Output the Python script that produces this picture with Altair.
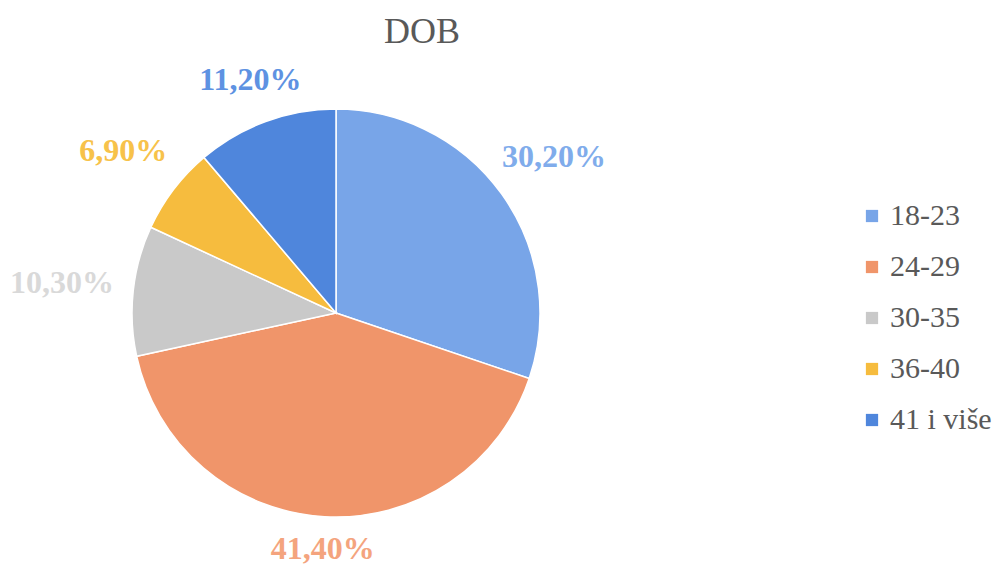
import altair as alt
import pandas as pd

categories = ["18-23", "24-29", "30-35", "36-40", "41 i više"]
values = [30.2, 41.4, 10.3, 6.9, 11.2]
labels = ["30,20%", "41,40%", "10,30%", "6,90%", "11,20%"]
slice_colors = ["#78a5e8", "#f0956a", "#c9c9c9", "#f6bc3e", "#4f86dc"]
label_colors = ["#80aceb", "#f4a47e", "#d9d9d9", "#f7c24a", "#5e92e2"]

df = pd.DataFrame({
    "cat": categories,
    "value": values,
    "label": labels,
    "idx": list(range(len(categories))),
})

FONT = "'Liberation Serif', 'DejaVu Serif', serif"
CX, CY = 328, 256

base = alt.Chart(df).encode(
    x=alt.value(CX),
    y=alt.value(CY),
)

pie = base.mark_arc(outerRadius=204, stroke="white", strokeWidth=1.5).encode(
    theta=alt.Theta("value:Q", stack=True),
    order=alt.Order("idx:Q"),
    color=alt.Color(
        "cat:N",
        scale=alt.Scale(domain=categories, range=slice_colors),
        sort=categories,
        legend=alt.Legend(
            title=None,
            orient="none",
            legendX=849,
            legendY=144,
            symbolType="square",
            symbolSize=150,
            symbolStrokeWidth=0,
            labelFont=FONT,
            labelFontSize=30,
            labelColor="#595959",
            rowPadding=21,
            labelOffset=3,
        ),
    )
)

text = (
    base.transform_window(cum="sum(value)", sort=[alt.SortField("idx")])
    .transform_calculate(mid="(datum.cum - datum.value / 2) / 100 * 2 * PI")
    .transform_calculate(r="234 + 42 * abs(sin(datum.mid))")
    .mark_text(font=FONT, fontSize=32, fontWeight="bold")
    .encode(
        theta=alt.Theta("mid:Q", scale=None),
        radius=alt.Radius("r:Q", scale=None),
        text="label:N",
        color=alt.Color(
            "label:N",
            scale=alt.Scale(domain=labels, range=label_colors),
            legend=None,
        ),
    )
)

chart = (
    alt.layer(pie, text)
    .resolve_scale(color="independent", theta="independent")
    .properties(
        width=828,
        height=484,
        padding={"top": 6, "left": 0, "right": 0, "bottom": 0},
        title=alt.TitleParams(
            "DOB", font=FONT, fontSize=36, fontWeight="normal", color="#595959",
            anchor="middle", offset=6,
        ),
    )
    .configure_view(stroke=None)
)

chart.save("out.html", embed_options={"renderer": "svg", "actions": False})
